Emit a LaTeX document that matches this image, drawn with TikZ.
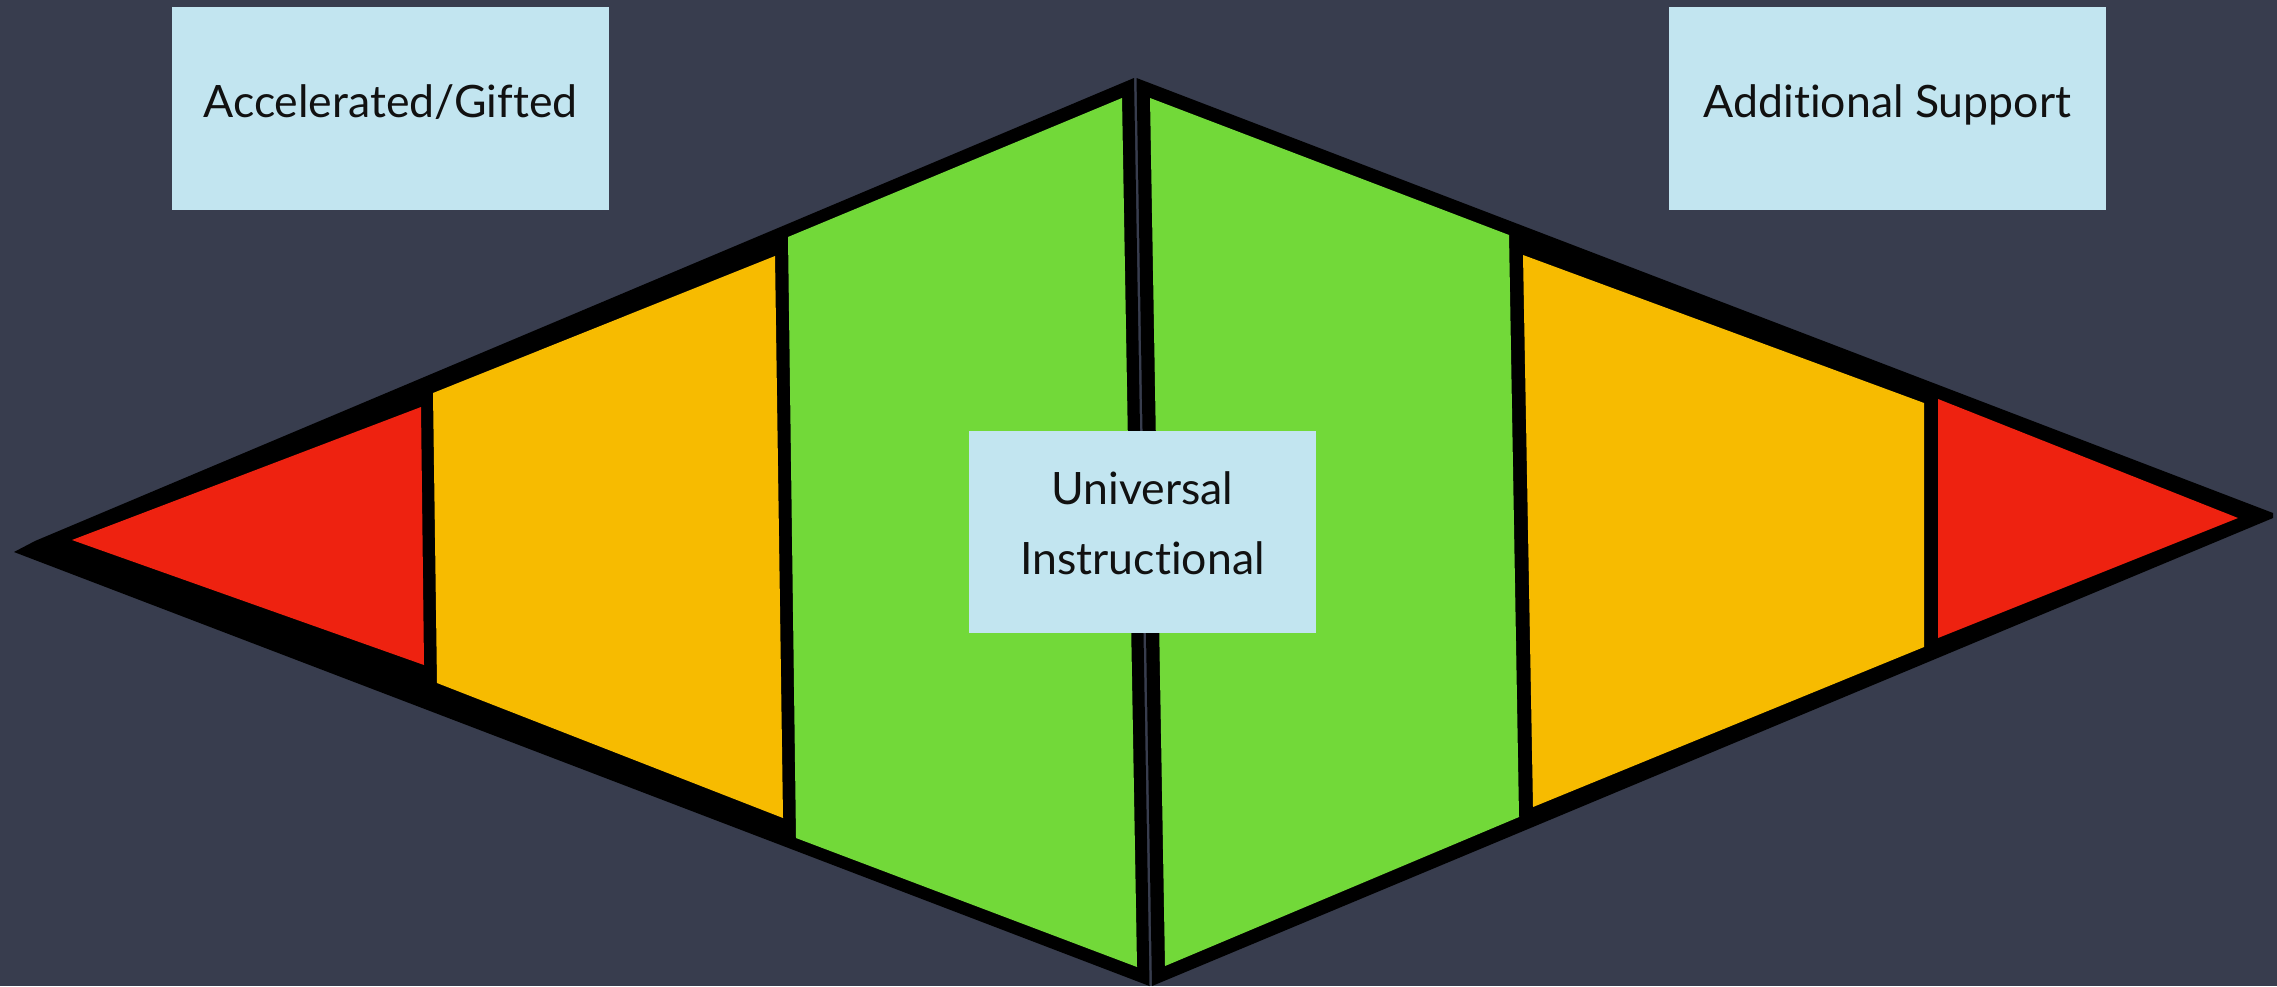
\documentclass[tikz,border=0pt]{standalone}
\usepackage{fontspec}
\setmainfont{Lato}[Ligatures={NoCommon,NoRequired,NoContextual}]
\definecolor{bgc}{HTML}{383D4E}
\definecolor{boxc}{HTML}{C2E5F0}
\definecolor{redc}{HTML}{EE2210}
\definecolor{orac}{HTML}{F7BB00}
\definecolor{grnc}{HTML}{72D939}
\definecolor{txtc}{HTML}{111111}
\tikzset{
  outline/.style={fill=black},
  lblbox/.style={fill=boxc, inner sep=0pt, text=txtc,
    font=\fontsize{44.6}{70}\selectfont},
  onelbl/.style={lblbox, minimum width=437pt, minimum height=203pt,
    text height=32pt, text depth=15pt},
  txtonly/.style={inner sep=0pt, text=txtc, align=center,
    font=\fontsize{44.6}{70}\selectfont}
}
\begin{document}
\begin{tikzpicture}[x=1pt,y=-1pt]
\fill[bgc] (0,0) rectangle (2277,986);
\useasboundingbox (0,0) rectangle (2277,986);
% black outlines of the two halves
\fill[outline] (1134,78) -- (35,541) -- (14,552) -- (1149.5,986) -- cycle;
\fill[outline] (1136.5,78) -- (2273,513) -- (2273,518) -- (1152,986) -- cycle;
% left half pieces
\fill[redc] (72,540) -- (421,407) -- (424,665) -- cycle;
\fill[orac] (433,393) -- (775,256) -- (783,818) -- (437,683) -- cycle;
\fill[grnc] (788,237) -- (1122,98) -- (1137,967) -- (796,838) -- cycle;
% right half pieces
\fill[grnc] (1150,98) -- (1509,235) -- (1519,817) -- (1165,966) -- cycle;
\fill[orac] (1523,255) -- (1924,403) -- (1924,647) -- (1533,807) -- cycle;
\fill[redc] (1938,399) -- (2238,518) -- (1938,638) -- cycle;
% labels
\node[onelbl] (acc) at (390.5,108.5) {Accelerated/Gifted};
\node[onelbl] (add) at (1887.5,108.5) {Additional Support};
\node[lblbox, minimum width=347pt, minimum height=202pt] (uni) at (1142.5,532) {};
\node[txtonly] (unitext) at (1142.5,523.5) {Universal\\Instructional};
\end{tikzpicture}
\end{document}
